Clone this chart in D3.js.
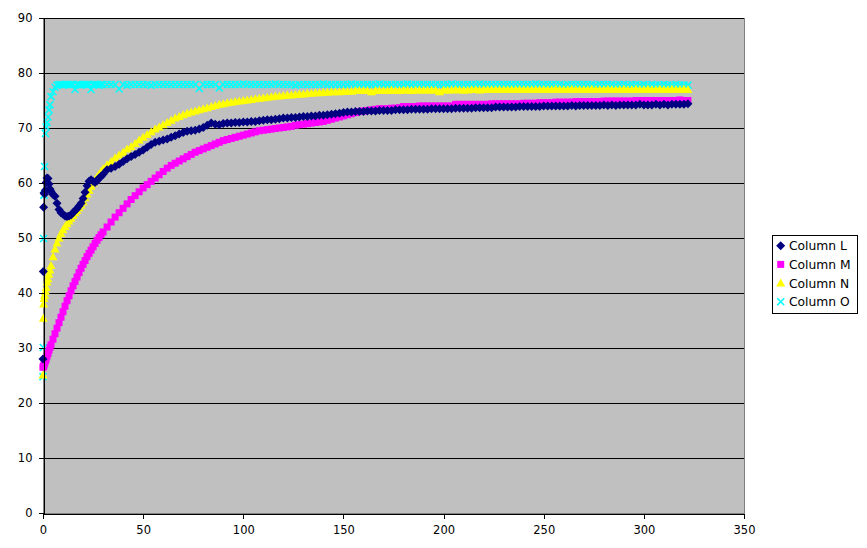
<!DOCTYPE html>
<html>
<head>
<meta charset="utf-8">
<script src="https://cdn.jsdelivr.net/npm/d3@7/dist/d3.min.js"></script>
<style>
  html, body { margin: 0; padding: 0; background: #ffffff; }
  svg { display: block; }
  text { font-family: "DejaVu Sans", Verdana, sans-serif; }
</style>
</head>
<body>
<svg id="chart" width="867" height="548"></svg>
<script>
// ---------------- DATA ----------------
const xHead = [0, 0.15, 0.3, 0.5, 0.8, 1.2, 1.6, 2, 2.5, 3, 3.5, 4];
const xBody = d3.range(5, 31);          // 5 .. 30
const xTail = d3.range(32, 323, 2);     // 32 .. 322
const xValues = [...xHead, ...xBody, ...xTail];

const xTicks = [0, 50, 100, 150, 200, 250, 300, 350];
const yTicks = [0, 10, 20, 30, 40, 50, 60, 70, 80, 90];

const seriesNames = ["Column L", "Column M", "Column N", "Column O"];

const columnL = [
  28.0, 43.9, 55.6, 58.2, 58.0, 58.7, 60.1, 60.9, 60.8, 59.8, 58.9, 58.5,
  57.9, 57.6, 56.3, 55.2, 54.6, 54.3, 54.0, 53.9, 54.0, 54.2, 54.6, 55.0, 55.3,
  55.8, 56.3, 57.2, 58.3, 59.5, 60.3, 60.6, 60.3, 60.1, 60.4, 60.9, 61.2, 61.6,
  62.4, 62.7, 63.0, 63.4, 63.9, 64.4, 64.8, 65.2, 65.6, 66.0,
  66.5, 67.0, 67.4, 67.6, 67.8, 68.0, 68.3, 68.6, 68.9, 69.2,
  69.4, 69.5, 69.6, 69.8, 70.1, 70.5, 70.9, 70.7, 70.6, 70.8,
  70.9, 70.9, 71.0, 71.0, 71.1, 71.1, 71.2, 71.2, 71.3, 71.4,
  71.5, 71.5, 71.6, 71.7, 71.8, 71.8, 71.9, 71.9, 72.0, 72.1,
  72.1, 72.2, 72.2, 72.3, 72.3, 72.4, 72.5, 72.6, 72.7, 72.8,
  72.9, 72.9, 73.0, 73.0, 73.0, 73.1, 73.1, 73.1, 73.2, 73.2,
  73.2, 73.2, 73.3, 73.3, 73.3, 73.3, 73.4, 73.4, 73.4, 73.4,
  73.4, 73.5, 73.5, 73.5, 73.5, 73.5, 73.5, 73.6, 73.6, 73.6,
  73.6, 73.6, 73.7, 73.7, 73.7, 73.7, 73.7, 73.8, 73.8, 73.8,
  73.8, 73.8, 73.8, 73.9, 73.9, 73.9, 73.9, 73.9, 73.9, 74.0,
  74.0, 74.0, 74.0, 74.0, 74.0, 74.0, 74.1, 74.0, 74.1, 74.1,
  74.1, 74.1, 74.1, 74.1, 74.2, 74.1, 74.2, 74.1, 74.2, 74.2,
  74.2, 74.2, 74.2, 74.3, 74.2, 74.2, 74.2, 74.3, 74.2, 74.3,
  74.2, 74.3, 74.3, 74.3, 74.3, 74.4
];

const columnM = [
  26.5, 26.6, 26.7, 26.9, 27.2, 27.6, 28.0, 28.5, 29.0, 29.6, 30.1, 30.6,
  31.6, 32.6, 33.6, 34.6, 35.6, 36.6, 37.6, 38.6, 39.5, 40.4, 41.3, 42.1, 42.9,
  43.7, 44.5, 45.2, 45.9, 46.6, 47.2, 47.8, 48.4, 49.0, 49.6, 50.1, 50.6, 51.1,
  52.0, 52.9, 53.8, 54.6, 55.4, 56.2, 57.0, 57.7, 58.4, 59.1,
  59.7, 60.3, 60.9, 61.5, 62.1, 62.7, 63.2, 63.6, 64.0, 64.4,
  64.8, 65.2, 65.6, 65.9, 66.2, 66.5, 66.8, 67.1, 67.4, 67.7,
  67.9, 68.1, 68.3, 68.5, 68.7, 68.9, 69.1, 69.3, 69.5, 69.6,
  69.7, 69.8, 69.9, 70.0, 70.1, 70.2, 70.3, 70.5, 70.6, 70.7,
  70.8, 70.9, 71.0, 71.1, 71.2, 71.4, 71.6, 71.8, 72.0, 72.2,
  72.4, 72.6, 72.8, 73.0, 73.1, 73.2, 73.3, 73.4, 73.5, 73.5,
  73.5, 73.6, 73.6, 73.7, 73.9, 73.9, 73.9, 73.9, 74.0, 74.0,
  74.0, 74.0, 74.0, 74.0, 74.0, 74.0, 74.0, 74.3, 74.3, 74.3,
  74.3, 74.3, 74.3, 74.3, 74.3, 74.3, 74.4, 74.4, 74.4, 74.4,
  74.4, 74.4, 74.4, 74.4, 74.5, 74.5, 74.5, 74.5, 74.6, 74.6,
  74.6, 74.6, 74.7, 74.7, 74.7, 74.7, 74.7, 74.8, 74.8, 74.8,
  74.8, 74.8, 74.8, 74.8, 74.9, 74.9, 74.9, 74.9, 74.9, 74.9,
  74.9, 74.9, 75.0, 75.0, 75.0, 75.0, 75.0, 75.0, 75.0, 75.0,
  75.0, 75.0, 75.0, 75.1, 75.0, 75.0
];

const columnN = [
  25.1, 35.4, 38.0, 39.0, 39.6, 40.3, 41.0, 42.0, 42.6, 43.4, 44.2, 45.0,
  46.6, 48.0, 49.1, 50.0, 50.8, 51.5, 52.1, 52.6, 53.1, 53.6, 54.1, 54.6, 55.0,
  55.5, 56.0, 56.6, 57.3, 58.0, 58.7, 59.4, 60.0, 60.6, 61.1, 61.6, 62.1, 62.6,
  63.3, 63.9, 64.6, 65.1, 65.6, 66.2, 66.6, 67.2, 67.8, 68.3,
  68.8, 69.3, 69.8, 70.2, 70.6, 71.0, 71.4, 71.8, 72.1, 72.4,
  72.7, 72.9, 73.1, 73.3, 73.5, 73.7, 73.9, 74.1, 74.3, 74.4,
  74.6, 74.7, 74.8, 74.9, 75.0, 75.1, 75.2, 75.3, 75.4, 75.5,
  75.6, 75.7, 75.8, 75.8, 75.9, 76.0, 76.0, 76.1, 76.2, 76.2,
  76.3, 76.3, 76.4, 76.4, 76.5, 76.5, 76.6, 76.6, 76.6, 76.7,
  76.7, 76.7, 76.8, 76.8, 76.8, 76.8, 76.6, 76.8, 76.8, 76.8,
  76.8, 76.9, 76.8, 76.8, 76.9, 76.9, 76.8, 76.9, 76.9, 76.9,
  76.9, 76.9, 76.9, 76.6, 76.9, 76.9, 76.9, 77.0, 76.9, 76.9,
  76.9, 77.0, 77.0, 76.9, 77.0, 77.0, 77.0, 77.0, 77.0, 77.0,
  77.0, 77.0, 77.0, 77.0, 77.0, 77.0, 77.0, 77.0, 77.0, 77.0,
  77.0, 77.0, 77.1, 77.0, 77.0, 77.0, 77.1, 77.0, 77.0, 77.0,
  77.0, 77.1, 77.0, 77.0, 77.0, 77.1, 77.0, 77.0, 77.0, 77.1,
  77.0, 77.0, 77.1, 77.0, 77.0, 77.1, 77.0, 77.0, 77.1, 77.0,
  77.0, 77.1, 77.0, 77.0, 77.1, 77.0
];

const columnO = [
  24.8, 30.1, 49.9, 57.8, 63.0, 69.0, 70.2, 71.0, 72.0, 73.3, 74.2, 75.7,
  76.6, 77.4, 77.8, 77.9, 77.9, 77.8, 77.9, 77.9, 77.9, 77.9, 77.9, 77.0, 77.9,
  77.9, 77.8, 77.9, 77.9, 77.9, 77.9, 77.0, 77.9, 77.9, 77.9, 77.8, 77.9, 77.9,
  77.9, 77.9, 77.9, 77.1, 77.9, 77.8, 77.9, 77.9, 77.9, 77.9,
  77.9, 77.8, 77.9, 77.9, 77.9, 77.9, 77.9, 77.9, 77.9, 77.9,
  77.9, 77.9, 77.9, 77.2, 77.9, 77.9, 77.9, 77.9, 77.3, 77.9,
  77.9, 77.9, 77.9, 77.9, 78.0, 77.9, 77.9, 77.9, 77.9, 77.9,
  77.9, 77.9, 78.0, 77.9, 77.9, 77.9, 77.9, 77.8, 77.9, 77.9,
  77.9, 77.9, 77.9, 77.9, 78.0, 77.9, 77.9, 77.9, 77.9, 77.9,
  77.9, 78.0, 77.9, 77.9, 77.9, 77.9, 77.9, 77.9, 78.0, 77.9,
  77.9, 77.9, 77.9, 77.9, 77.9, 78.0, 77.9, 77.9, 77.9, 77.9,
  77.9, 77.9, 77.9, 77.9, 77.9, 77.9, 78.0, 77.9, 77.9, 77.9,
  77.9, 77.9, 77.9, 78.0, 77.9, 77.9, 77.9, 77.9, 77.9, 77.9,
  77.9, 77.9, 77.9, 77.9, 77.9, 77.9, 77.9, 78.0, 77.9, 77.9,
  77.9, 77.9, 77.9, 77.9, 77.8, 77.9, 77.9, 77.9, 77.9, 77.9,
  77.9, 77.9, 77.8, 77.9, 77.9, 77.9, 77.9, 77.8, 77.9, 77.9,
  77.8, 77.9, 77.9, 77.8, 77.9, 77.8, 77.9, 77.8, 77.8, 77.9,
  77.8, 77.8, 77.9, 77.8, 77.8, 77.8
];

// ---------------- CHART ----------------
const svg = d3.select("#chart");
const plot = { left: 43, right: 744, top: 18, bottom: 513 };

const x = d3.scaleLinear().domain([0, 350]).range([plot.left, plot.right]);
const y = d3.scaleLinear().domain([0, 90]).range([plot.bottom, plot.top]);

// plot background
svg.append("rect")
  .attr("x", plot.left).attr("y", plot.top)
  .attr("width", plot.right - plot.left).attr("height", plot.bottom - plot.top)
  .attr("fill", "#c0c0c0")
  .attr("stroke", "#808080").attr("stroke-width", 1)
  .attr("shape-rendering", "crispEdges");

// gridlines
svg.append("g").selectAll("line")
  .data(yTicks.filter(t => t > 0))
  .join("line")
  .attr("x1", plot.left).attr("x2", plot.right)
  .attr("y1", d => Math.round(y(d)) + 0.5).attr("y2", d => Math.round(y(d)) + 0.5)
  .attr("stroke", "#000").attr("stroke-width", 1);

// marker shapes
const shapes = {
  diamond: "M0,-4.5L4.5,0L0,4.5L-4.5,0Z",
  square: "M-3.5,-3.5h7v7h-7Z",
  triangle: "M0,-4.5L4.5,3.5L-4.5,3.5Z",
  cross: "M-3.5,-3.5L3.5,3.5M3.5,-3.5L-3.5,3.5"
};

const series = [
  { name: seriesNames[0], values: columnL, color: "#000080", shape: "diamond" },
  { name: seriesNames[1], values: columnM, color: "#ff00ff", shape: "square" },
  { name: seriesNames[2], values: columnN, color: "#ffff00", shape: "triangle" },
  { name: seriesNames[3], values: columnO, color: "#00ffff", shape: "cross" }
];

function styleMarker(sel, s) {
  if (s.shape === "cross") {
    sel.attr("fill", "none").attr("stroke", s.color).attr("stroke-width", 1.6);
  } else {
    sel.attr("fill", s.color).attr("stroke", "none");
  }
}

// draw in reverse order (Column L ends on top)
const gSeries = svg.append("g");
series.slice().reverse().forEach(s => {
  const n = Math.min(s.values.length, xValues.length);
  const pts = d3.range(n).map(i => ({ x: xValues[i], v: s.values[i] }));
  const sel = gSeries.append("g").selectAll("path")
    .data(pts).join("path")
    .attr("d", shapes[s.shape])
    .attr("transform", d => `translate(${x(d.x)},${y(d.v)})`);
  styleMarker(sel, s);
});

// axes
const yAxis = d3.axisLeft(y).tickValues(yTicks).tickSize(5).tickSizeOuter(0).tickPadding(6);
const xAxis = d3.axisBottom(x).tickValues(xTicks).tickSize(5).tickSizeOuter(0).tickPadding(7);

const gy = svg.append("g").attr("transform", `translate(${plot.left + 0.5},0)`).call(yAxis);
const gx = svg.append("g").attr("transform", `translate(0,${plot.bottom + 0.5})`).call(xAxis);
[gx, gy].forEach(g => {
  g.select(".domain").attr("stroke", "#000").attr("shape-rendering", "crispEdges");
  g.selectAll(".tick line").attr("stroke", "#000").attr("shape-rendering", "crispEdges");
  g.selectAll("text")
    .attr("fill", "#000")
    .style("font-family", "'DejaVu Sans', Verdana, sans-serif")
    .style("font-size", "11.5px");
});

// legend
const legend = svg.append("g");
legend.append("rect")
  .attr("x", 772.5).attr("y", 235.5).attr("width", 85).attr("height", 78)
  .attr("fill", "#fff").attr("stroke", "#000").attr("stroke-width", 1);
series.forEach((s, i) => {
  const cy = 245.7 + i * 18.7;
  const m = legend.append("path")
    .attr("d", shapes[s.shape])
    .attr("transform", `translate(780.7,${cy})`);
  styleMarker(m, s);
  legend.append("text")
    .attr("x", 789).attr("y", cy + 4.4)
    .style("font-size", "12.3px")
    .attr("fill", "#000")
    .text(s.name);
});
</script>
</body>
</html>
